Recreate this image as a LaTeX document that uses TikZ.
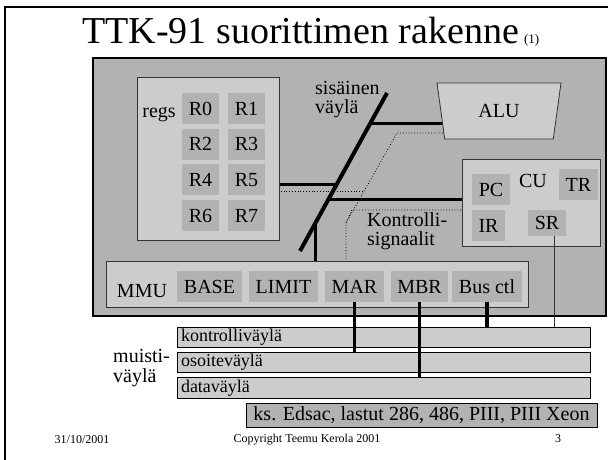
\documentclass[tikz,border=0pt]{standalone}
\usepackage{fontspec}
\setmainfont{Liberation Serif}
\usetikzlibrary{calc,shapes.geometric}
\definecolor{cpugray}{gray}{0.70}
\definecolor{unitgray}{gray}{0.80}
\pgfdeclarelayer{back}
\pgfdeclarelayer{wires}
\pgfsetlayers{back,wires,main}
\begin{document}
\begin{tikzpicture}[x=1pt,y=-1pt,
  every node/.style={font=\fontsize{20}{22}\selectfont},
  unit/.style={draw=black!80,fill=unitgray,line width=0.8pt,inner sep=0},
  reg/.style={fill=cpugray,inner sep=0,minimum height=31},
  busline/.style={line width=4pt},
  wire/.style={line width=3pt},
  memwire/.style={line width=3.5pt},
  ctrl/.style={dotted,line width=0.8pt},
  bar/.style={draw,fill=unitgray,line width=0.8pt,inner xsep=4pt,inner ysep=0,
    minimum height=20,text width=405,align=left,text height=13,text depth=4,
    font=\fontsize{18}{20}\selectfont}]
  \useasboundingbox (0,0) rectangle (608,459);
  \clip (0,0) rectangle (608,459);
  \draw[line width=1.5pt] (5,7) rectangle (620,470);
  \node[anchor=base west,inner sep=0] (title) at (82,43)
    {\fontsize{38}{40}\selectfont TTK-91 suorittimen rakenne\hspace{5pt}{\fontsize{13}{14}\selectfont (1)}};
  % processor
  \begin{pgfonlayer}{back}
    \node[draw,line width=1.2pt,fill=cpugray,inner sep=0,minimum width=513,minimum height=258] (cpu) at (349.5,187) {};
  \end{pgfonlayer}
  \node[unit,minimum width=142,minimum height=163] (regs) at (208,158.5) {};
  \node[anchor=base] (regslbl) at (159,117) {regs};
  \foreach \i in {0,...,7} {
      \node[reg,minimum width=37] (R\i) at ({200.5+46*mod(\i,2)},{108.5+35.7*int(\i/2)}) {R\i};
  }
  \node[unit,trapezium,shape border rotate=180,trapezium stretches body=true,
    minimum width=124,minimum height=56] (alu) at (499,111) {ALU};
  \node[unit,minimum width=138,minimum height=87] (cu) at (531,202.5) {};
  \node[anchor=base] (culbl) at (533,187) {CU};
  \node[reg,minimum width=38] (pc) at (491,189.5) {PC};
  \node[reg,minimum width=39] (tr) at (578.5,184.5) {TR};
  \node[reg,minimum width=33] (ir) at (488.5,225.5) {IR};
  \node[reg,minimum width=38,minimum height=26] (sr) at (547,223) {SR};
  \node[unit,minimum width=422,minimum height=46] (mmu) at (317,284) {};
  \node[anchor=base] (mmulbl) at (142,297) {MMU};
  \foreach \n/\x/\w/\t in {base/209.5/65/BASE, limit/283.5/69/LIMIT, mar/354.5/59/MAR,
      mbr/419.5/57/MBR, busctl/487/70/Bus ctl} {
      \node[reg,minimum width=\w] (\n) at (\x,286.5) {\t};
  }
  \node[anchor=north west,inner sep=0,align=left,font=\fontsize{20}{19}\selectfont] (buslbl) at (315,81) {sisäinen\\väylä};
  \node[anchor=north west,inner sep=0,align=left,font=\fontsize{20}{19}\selectfont] (ctrllbl) at (367,212) {Kontrolli-\\signaalit};
  % memory bus
  \node[bar] (kontrolli) at (383.5,337) {kontrolliväylä};
  \node[bar] (osoite) at (383.5,362) {osoiteväylä};
  \node[bar,minimum height=21] (data) at (383.5,387.5) {dataväylä};
  \node[anchor=north west,inner sep=0,align=left,font=\fontsize{20}{20}\selectfont] (memlbl) at (113,349) {muisti-\\väylä};
  \node[draw,fill=cpugray,line width=0.8pt,inner sep=0,minimum width=351,minimum height=24] (edsac) at (421.5,415)
    {ks. Edsac, lastut 286, 486, PIII, PIII Xeon};
  \node[font=\fontsize{12}{14}\selectfont] (date) at (82,440) {31/10/2001};
  \node[font=\fontsize{12}{14}\selectfont] (copy) at (307,440) {Copyright Teemu Kerola 2001};
  \node[font=\fontsize{12}{14}\selectfont] (page) at (558,439) {3};
  % internal bus
  \coordinate (busbot) at (300,251);
  \coordinate (bustop) at (387,93);
  \coordinate (balu) at ($(busbot)!0.810!(bustop)$);
  \coordinate (breg) at ($(busbot)!0.418!(bustop)$);
  \coordinate (bcu) at ($(busbot)!0.323!(bustop)$);
  \coordinate (bmmu) at ($(busbot)!0.177!(bustop)$);
  \coordinate (ctla) at (397,133);
  \coordinate (ctlb) at (352,210);
  \coordinate (ctlc) at (346,223);
  \coordinate (ctld) at ($(ctla)!0.644!(ctlc)$);
  \begin{pgfonlayer}{wires}
    \draw[busline] (busbot) -- (bustop);
    \draw[wire] (balu) -- (balu -| alu.center);
    \draw[wire] (regs.center |- breg) -- (breg);
    \draw[wire] (bcu) -- (bcu -| cu.center);
    \draw[wire] (bmmu) -- (bmmu |- mmu.center);
    \draw[ctrl] (ctla -| alu.center) -- (ctla) -- (ctlc) -- (ctlc |- mmu.center);
    \draw[ctrl] (ctlb -| cu.center) -- (ctlb) -- (ctlc);
    \draw[ctrl] (regs.center |- ctld) -- (ctld);
  \end{pgfonlayer}
  \draw[memwire] (mar.south) -- (mar.south |- osoite.north);
  \draw[memwire] (mbr.south) -- (mbr.south |- data.north);
  \draw[memwire] (busctl.south) -- (busctl.south |- kontrolli.north);
  \draw[line width=0.8pt,black!80] ([xshift=7]sr.south) -- ([xshift=7]sr.south |- kontrolli.north);
\end{tikzpicture}
\end{document}
